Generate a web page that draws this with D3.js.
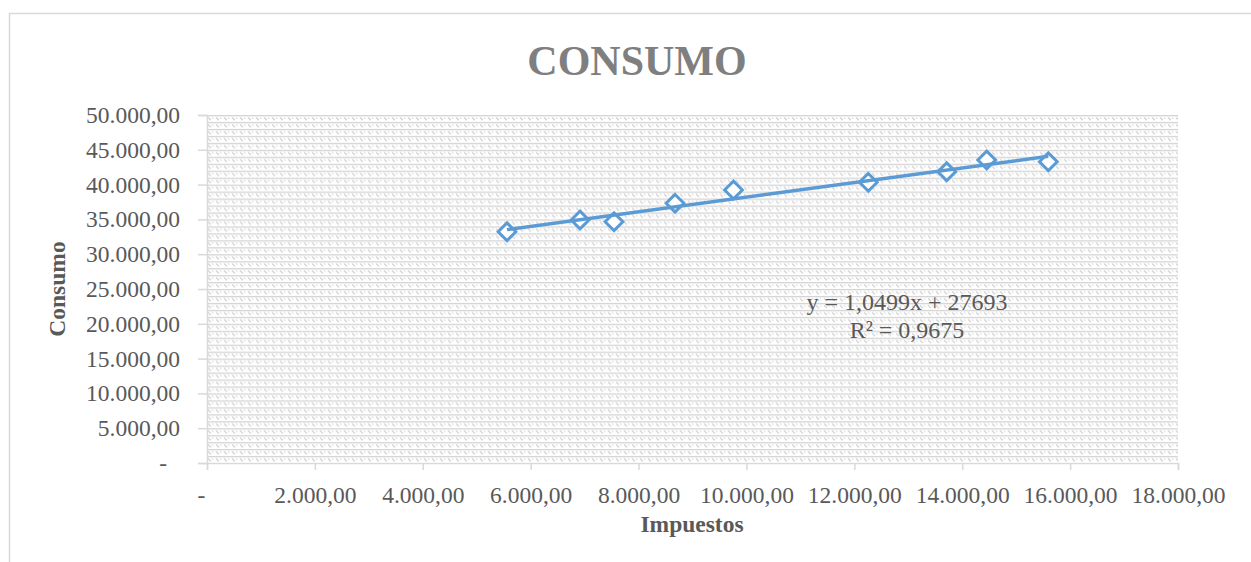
<!DOCTYPE html>
<html>
<head>
<meta charset="utf-8">
<script src="https://cdn.jsdelivr.net/npm/d3@7"></script>
<style>
  html, body { margin: 0; padding: 0; background: #fff; }
  svg { display: block; }
  text { font-family: "Liberation Serif", "Times New Roman", serif; }
</style>
</head>
<body>
<svg id="chart" width="1251" height="562"></svg>
<script>
// Observations: taxes (Impuestos) vs. consumption (Consumo)
const impuestos = [5561, 6915, 7545, 8676, 9760, 12259, 13712, 14454, 15596];
const consumo   = [33233, 34914, 34670, 37313, 39224, 40330, 41853, 43534, 43290];

// Linear trend reported on the chart
const trendSlope = 1.0499;
const trendIntercept = 27693;
const trendLabel = ["y = 1,0499x + 27693", "R² = 0,9675"];

const xTicks = [0, 2000, 4000, 6000, 8000, 10000, 12000, 14000, 16000, 18000];
const yTicks = [0, 5000, 10000, 15000, 20000, 25000, 30000, 35000, 40000, 45000, 50000];

const chartTitle = "CONSUMO";
const xTitle = "Impuestos";
const yTitle = "Consumo";

const svg = d3.select("#chart");
const plot = { left: 207, right: 1178, top: 115, bottom: 463 };

const x = d3.scaleLinear().domain([0, 18000]).range([plot.left, plot.right]);
const y = d3.scaleLinear().domain([0, 50000]).range([plot.bottom, plot.top]);

// Spanish-style number format: 12.345,00 and "-" for zero
const esLocale = d3.formatLocale({ decimal: ",", thousands: ".", grouping: [3], currency: ["", ""] });
const fmt = v => v === 0 ? "-" : esLocale.format(",.2f")(v);

// Outer chart frame
svg.append("rect")
  .attr("x", 9.5).attr("y", 13.5)
  .attr("width", 1260).attr("height", 570)
  .attr("fill", "#fff").attr("stroke", "#d9d9d9").attr("stroke-width", 1.5);

// Hatched plot-area fill
const defs = svg.append("defs");
const ph = (y(0) - y(5000)) / 5;
const pat = defs.append("pattern")
  .attr("id", "hatch").attr("patternUnits", "userSpaceOnUse")
  .attr("x", plot.left).attr("y", plot.top)
  .attr("width", 8).attr("height", ph);
pat.append("rect").attr("width", 8).attr("height", ph).attr("fill", "#fff");
pat.append("line").attr("x1", 0).attr("x2", 8).attr("y1", 0.6).attr("y2", 0.6)
  .attr("stroke", "#d4d4d4").attr("stroke-width", 1.4);
pat.append("line").attr("x1", 1).attr("y1", 2.4).attr("x2", 4).attr("y2", 5.2)
  .attr("stroke", "#d4d4d4").attr("stroke-width", 1.3);
pat.append("line").attr("x1", 5).attr("y1", 2.4).attr("x2", 6.5).attr("y2", 3.8)
  .attr("stroke", "#e0e0e0").attr("stroke-width", 1.1);

svg.append("rect")
  .attr("x", plot.left).attr("y", plot.top)
  .attr("width", plot.right - plot.left).attr("height", plot.bottom - plot.top)
  .attr("fill", "url(#hatch)");

// Axes
const xAxis = svg.append("g")
  .attr("transform", `translate(0,${plot.bottom})`)
  .call(d3.axisBottom(x).tickValues(xTicks).tickFormat(fmt).tickSize(7).tickPadding(16));
const yAxis = svg.append("g")
  .attr("transform", `translate(${plot.left},0)`)
  .call(d3.axisLeft(y).tickValues(yTicks).tickFormat(fmt).tickSize(9).tickPadding(18));

[xAxis, yAxis].forEach(g => {
  g.select(".domain").attr("stroke", "#d9d9d9").attr("stroke-width", 1.5);
  g.selectAll(".tick line").attr("stroke", "#d9d9d9").attr("stroke-width", 1.5);
  g.selectAll(".tick text")
    .attr("fill", "#595959")
    .style("font-family", '"Liberation Serif", "Times New Roman", serif')
    .style("font-size", "23.5px");
});
xAxis.selectAll(".tick text").filter(d => d === 0).attr("dx", -6);
yAxis.selectAll(".tick text").filter(d => d === 0).attr("dx", -13);

// Trend line over the observed range
const xExt = d3.extent(impuestos);
const trendPts = xExt.map(v => [v, trendSlope * v + trendIntercept]);

// Markers: hollow diamonds
const pts = impuestos.map((v, i) => [v, consumo[i]]);
const diamond = d3.symbol().type(d3.symbolDiamond2).size(200);
svg.append("g").selectAll("path")
  .data(pts).join("path")
  .attr("transform", d => `translate(${x(d[0])},${y(d[1])})`)
  .attr("d", diamond)
  .attr("fill", "#fff")
  .attr("stroke", "#5b9bd5")
  .attr("stroke-width", 3);

svg.append("path")
  .datum(trendPts)
  .attr("d", d3.line().x(d => x(d[0])).y(d => y(d[1])))
  .attr("fill", "none")
  .attr("stroke", "#5b9bd5")
  .attr("stroke-width", 3.5);

// Trend equation
svg.append("text")
  .attr("text-anchor", "middle")
  .attr("fill", "#595959")
  .style("font-size", "24px")
  .selectAll("tspan").data(trendLabel).join("tspan")
  .attr("x", 907)
  .attr("y", (d, i) => 310 + i * 28)
  .text(d => d);

// Titles
svg.append("text")
  .attr("x", 637).attr("y", 75)
  .attr("text-anchor", "middle")
  .attr("fill", "#7f7f7f")
  .style("font-size", "42px").style("font-weight", "bold")
  .text(chartTitle);

svg.append("text")
  .attr("x", 692).attr("y", 532)
  .attr("text-anchor", "middle")
  .attr("fill", "#595959")
  .style("font-size", "23.5px").style("font-weight", "bold")
  .text(xTitle);

svg.append("text")
  .attr("transform", `translate(65,289) rotate(-90)`)
  .attr("text-anchor", "middle")
  .attr("fill", "#595959")
  .style("font-size", "23.5px").style("font-weight", "bold")
  .text(yTitle);
</script>
</body>
</html>
